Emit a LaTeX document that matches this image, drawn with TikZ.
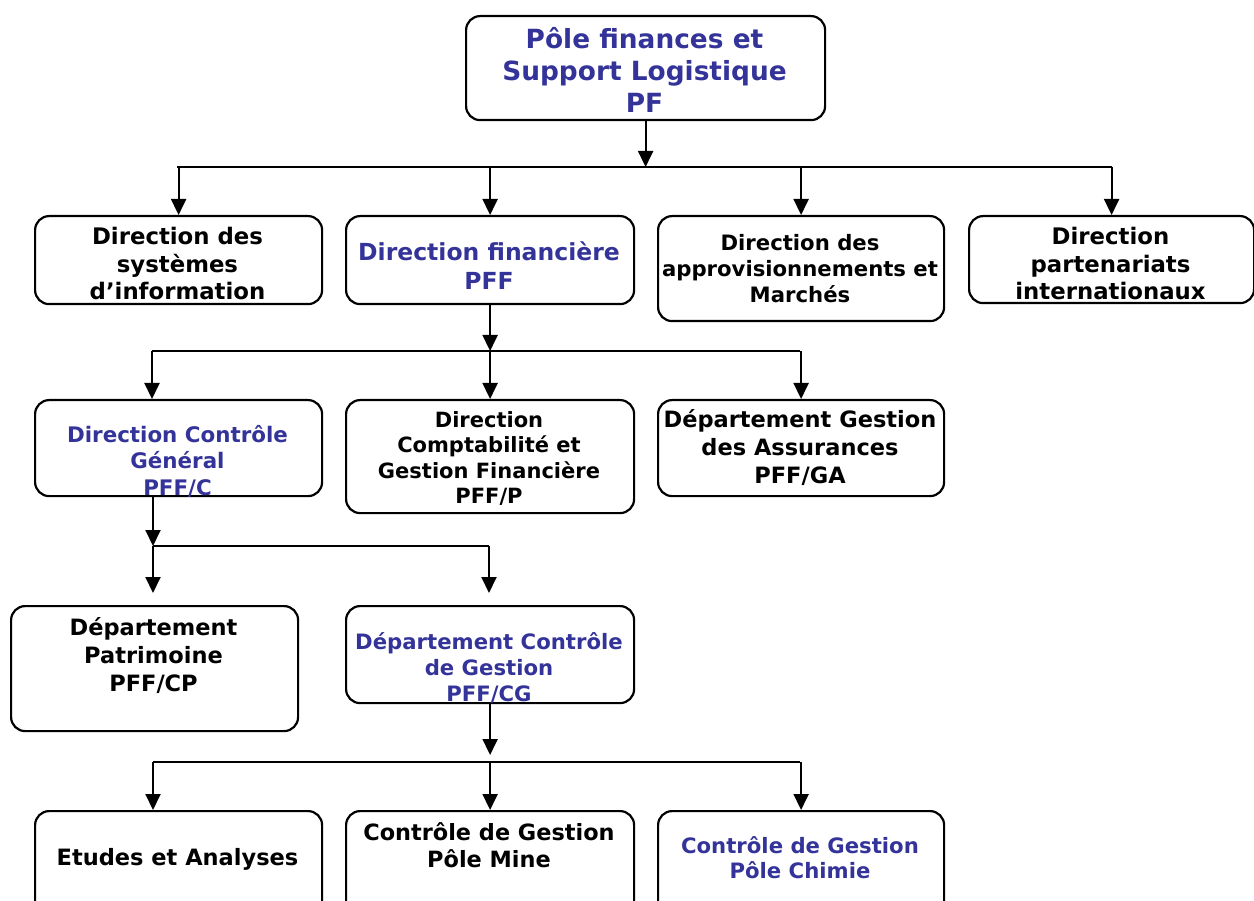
\documentclass[tikz,border=0pt]{standalone}
\usepackage{fontspec}
\setmainfont{DejaVu Sans}
\usetikzlibrary{arrows.meta}
\definecolor{unitblue}{RGB}{51,51,153}
\begin{document}
\begin{tikzpicture}[x=1pt,y=-1pt,
  unit/.style={draw=black, line width=2.2pt, rounded corners=14pt, inner sep=0pt, anchor=north west},
  txt/.style 2 args={inner sep=0pt, align=center, font=\bfseries\fontsize{#1}{#2}\selectfont},
  link/.style={line width=2pt},
  arr/.style={link, -{Triangle[length=16pt,width=15pt]}},
]
\useasboundingbox (0,0) rectangle (1254,901);
\clip (0,0) rectangle (1254,901);

% boxes
\node[unit, minimum width=359pt, minimum height=104pt] (pf) at (465,15) {};
\node[unit, minimum width=287pt, minimum height=88pt]  (b1) at (34,215) {};
\node[unit, minimum width=288pt, minimum height=88pt]  (b2) at (345,215) {};
\node[unit, minimum width=286pt, minimum height=105pt] (b3) at (657,215) {};
\node[unit, minimum width=285pt, minimum height=87pt]  (b4) at (968,215) {};
\node[unit, minimum width=287pt, minimum height=96pt]  (c1) at (34,399) {};
\node[unit, minimum width=288pt, minimum height=113pt] (c2) at (345,399) {};
\node[unit, minimum width=286pt, minimum height=96pt]  (c3) at (657,399) {};
\node[unit, minimum width=287pt, minimum height=125pt] (d1) at (10,605) {};
\node[unit, minimum width=288pt, minimum height=97pt]  (d2) at (345,605) {};
\node[unit, minimum width=287pt, minimum height=110pt] (e1) at (34,810) {};
\node[unit, minimum width=288pt, minimum height=110pt] (e2) at (345,810) {};
\node[unit, minimum width=286pt, minimum height=110pt] (e3) at (657,810) {};

% texts
\node[txt={26.4}{32}, text=unitblue] (pft) at (644.5,70) {Pôle finances et\\Support Logistique\\PF};
\node[txt={22.8}{27.5}] (b1t) at (177.5,264) {Direction des\\systèmes\\d’information};
\node[txt={23.5}{29}, text=unitblue] (b2t) at (489,265.5) {Direction financière\\PFF};
\node[txt={21.2}{26}] (b3t) at (800,269) {Direction des\\approvisionnements et\\Marchés};
\node[txt={22.8}{27.5}] (b4t) at (1110.5,264) {Direction\\partenariats\\internationaux};
% the last line of these two labels runs into the lower border
\begin{scope}
  \clip[rounded corners=14pt] (c1.north west) rectangle ([yshift=1.2pt]c1.south east);
  \node[txt={21.4}{26.5}, text=unitblue] (c1t) at (177.5,461) {Direction Contrôle\\Général\\PFF/C};
\end{scope}
\node[txt={21}{25.5}] (c2t) at (489,458.5) {Direction\\Comptabilité et\\Gestion Financière\\PFF/P};
\node[txt={22.5}{28}] (c3t) at (800,448) {Département Gestion\\des Assurances\\PFF/GA};
\node[txt={22.5}{28}] (d1t) at (153.5,656) {Département\\Patrimoine\\PFF/CP};
\begin{scope}
  \clip[rounded corners=14pt] (d2.north west) rectangle ([yshift=1.2pt]d2.south east);
  \node[txt={21.2}{26}, text=unitblue] (d2t) at (489,668) {Département Contrôle\\de Gestion\\PFF/CG};
\end{scope}
\node[txt={22.5}{26}] (e1t) at (177.5,859) {Etudes et Analyses};
\node[txt={22.4}{27}] (e2t) at (489,845) {Contrôle de Gestion\\Pôle Mine};
\node[txt={21.2}{25}, text=unitblue] (e3t) at (800,858) {Contrôle de Gestion\\Pôle Chimie};

% level 1
\coordinate (bus1w) at (177,167);
\coordinate (bus1e) at (1112,167);
\draw[link] (bus1w) -- (bus1e);
\draw[arr] (pf.south) -- (pf.south |- bus1w);
\foreach \n in {b1,b2,b3,b4} \draw[arr] (\n.north |- bus1w) -- (\n.north);

% level 2
\coordinate (bus2w) at (152,351);
\coordinate (bus2e) at (800,351);
\draw[link] (bus2w) -- (bus2e);
\draw[arr] (b2.south) -- (b2.south |- bus2w);
\draw[arr] (bus2w) -- (bus2w |- c1.north);
\draw[arr] (c2.north |- bus2w) -- (c2.north);
\draw[arr] (c3.north |- bus2w) -- (c3.north);

% level 3
\coordinate (bus3w) at (153,546);
\coordinate (bus3e) at (489,546);
\draw[arr] (c1.south -| bus3w) -- (bus3w);
\draw[link] (bus3w) -- (bus3e);
\draw[arr] (bus3w) -- ([yshift=12pt]bus3w |- d1.north);
\draw[arr] (bus3e) -- ([yshift=12pt]bus3e |- d2.north);

% level 4
\coordinate (bus4w) at (153,762);
\coordinate (bus4e) at (800,762);
\draw[arr] (d2.south) -- ([yshift=7pt]d2.south |- bus4w);
\draw[link] (bus4w) -- (bus4e);
\draw[arr] (bus4w) -- (bus4w |- e1.north);
\draw[arr] (e2.north |- bus4w) -- (e2.north);
\draw[arr] (e3.north |- bus4w) -- (e3.north);
\end{tikzpicture}
\end{document}
